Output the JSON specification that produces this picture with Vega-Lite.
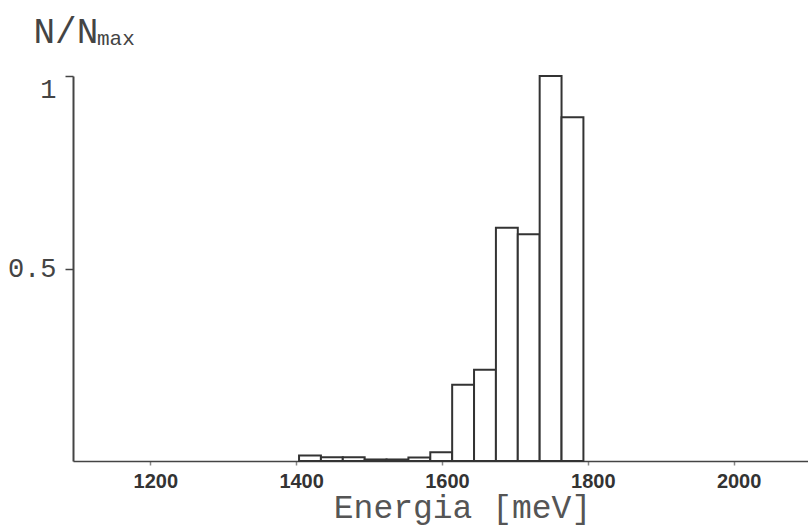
{
  "$schema": "https://vega.github.io/schema/vega-lite/v6.json",
  "width": 735,
  "height": 385,
  "autosize": "none",
  "padding": {"left": 73, "top": 76, "right": 0, "bottom": 67},
  "background": "white",
  "config": {"view": {"stroke": null}},
  "title": {
    "text": "max",
    "anchor": "start",
    "frame": "group",
    "font": "Liberation Mono",
    "fontSize": 21,
    "fontWeight": "normal",
    "color": "#444",
    "baseline": "alphabetic",
    "dx": 24,
    "offset": -53
  },
  "data": {
    "values": [
      {"start": 1404, "end": 1434, "n": 0.014},
      {"start": 1434, "end": 1464, "n": 0.010},
      {"start": 1464, "end": 1494, "n": 0.010},
      {"start": 1494, "end": 1524, "n": 0.004},
      {"start": 1524, "end": 1554, "n": 0.004},
      {"start": 1554, "end": 1584, "n": 0.009},
      {"start": 1584, "end": 1614, "n": 0.023},
      {"start": 1614, "end": 1644, "n": 0.198},
      {"start": 1644, "end": 1674, "n": 0.237},
      {"start": 1674, "end": 1704, "n": 0.606},
      {"start": 1704, "end": 1734, "n": 0.589},
      {"start": 1734, "end": 1764, "n": 1.0},
      {"start": 1764, "end": 1794, "n": 0.893}
    ]
  },
  "mark": {"type": "rect", "fill": "white", "stroke": "#333", "strokeWidth": 2},
  "encoding": {
    "x": {
      "field": "start",
      "type": "quantitative",
      "scale": {"domain": [1094, 2102], "nice": false, "zero": false},
      "axis": {
        "values": [1200, 1400, 1600, 1800, 2000],
        "format": "d",
        "labelFont": "Liberation Sans",
        "labelFontSize": 20,
        "labelFontWeight": "bold",
        "labelColor": "#333",
        "labelPadding": 6,
        "labelOffset": 5,
        "tickSize": 4,
        "tickColor": "#888",
        "tickWidth": 1.5,
        "domainColor": "#444",
        "domainWidth": 1.5,
        "grid": false,
        "title": "Energia [meV]",
        "titleFont": "Liberation Mono",
        "titleFontSize": 33,
        "titleFontWeight": "normal",
        "titleColor": "#555",
        "titleX": 389,
        "titleY": 56,
        "titleBaseline": "alphabetic",
        "titleAlign": "center"
      }
    },
    "x2": {"field": "end"},
    "y": {
      "field": "n",
      "type": "quantitative",
      "scale": {"domain": [0, 1], "nice": false},
      "axis": {
        "values": [0.5, 1],
        "format": "~g",
        "labelFont": "Liberation Mono",
        "labelFontSize": 27,
        "labelColor": "#444",
        "labelPadding": 9,
        "labelFlush": true,
        "tickSize": 8,
        "tickColor": "#444",
        "tickWidth": 1.5,
        "domainColor": "#444",
        "domainWidth": 2,
        "grid": false,
        "title": "N/N",
        "titleFont": "Liberation Mono",
        "titleFontSize": 36,
        "titleFontWeight": "normal",
        "titleColor": "#444",
        "titleAngle": 0,
        "titleAlign": "left",
        "titleBaseline": "alphabetic",
        "titleX": -40,
        "titleY": -34
      }
    },
    "y2": {"datum": 0}
  }
}
